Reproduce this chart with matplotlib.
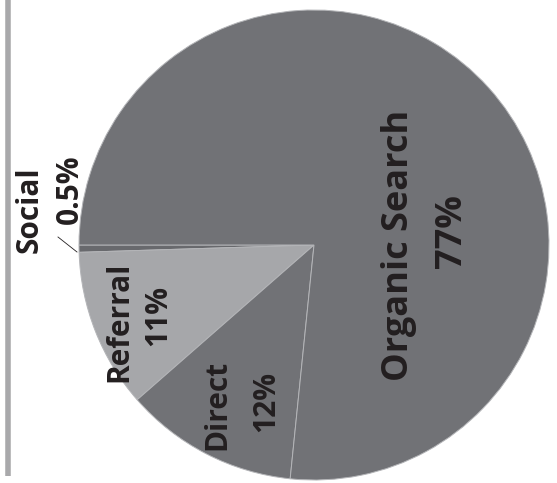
import matplotlib
matplotlib.use("Agg")
import matplotlib.pyplot as plt

# traffic sources, in the order they are laid out counterclockwise from the left
sources = ["Social", "Referral", "Direct", "Organic Search"]
shares = [0.5, 11, 12, 77]
slice_colors = ["#68696d", "#a6a7aa", "#717276", "#717276"]
label_texts = ["0.5%", "11%", "12%", "77%"]

W, H = 557, 483
fig = plt.figure(figsize=(W / 100, H / 100), dpi=100)
ax = fig.add_axes([0, 0, 1, 1])

cx, cy, r = 314, H - 245, 235
ax.pie(shares, colors=slice_colors, startangle=180, counterclock=True,
       center=(cx, cy), radius=r,
       wedgeprops=dict(edgecolor="#b4b5b8", linewidth=0.7))

ax.set_xlim(0, W)
ax.set_ylim(0, H)
ax.set_aspect("equal")
ax.axis("off")

# grey rule down the left side
ax.plot([7.5, 7.5], [H - 476, H], color="#a9a9ab", linewidth=4, solid_capstyle="butt")

txt = dict(rotation=90, ha="center", va="center", fontweight="bold",
           color="#231f20", family="Open Sans")

ax.text(399, H - 245, sources[3], fontsize=26, **txt)
ax.text(452, H - 231, label_texts[3], fontsize=26, **txt)

ax.text(217, H - 405, sources[2], fontsize=21.5, **txt)
ax.text(266, H - 401, label_texts[2], fontsize=21.5, **txt)

ax.text(119, H - 322, sources[1], fontsize=21.5, **txt)
ax.text(158, H - 316, label_texts[1], fontsize=21.5, **txt)

ax.text(30, H - 210, sources[0], fontsize=21.5, **txt)
ax.text(70, H - 189, label_texts[0], fontsize=21.5, **txt)

# leader line for the thin Social slice
ax.plot([58, 77], [H - 237, H - 252], color="#231f20", linewidth=0.6)

fig.savefig("out.png", dpi=100, facecolor="white")
